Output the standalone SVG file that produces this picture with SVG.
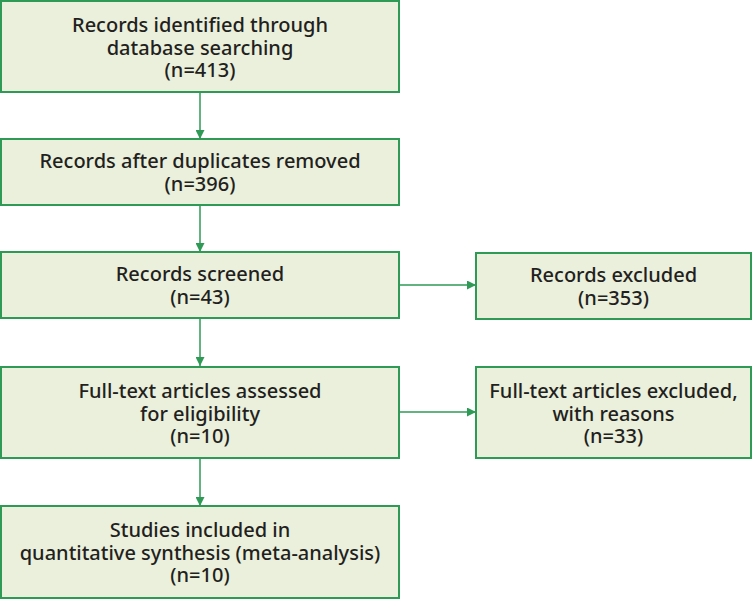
<svg xmlns="http://www.w3.org/2000/svg" width="752" height="599" viewBox="0 0 752 599">
<defs>
<style>
.box{fill:#eaf0db;stroke:#2e9a55;stroke-width:2}
.t{font-family:"Noto Sans","Open Sans",sans-serif;font-size:20px;font-weight:500;fill:#231f20;text-anchor:middle}
.c{stroke:#2e9a55;stroke-width:1.5;fill:none}
</style>
<marker id="ah" viewBox="0 0 10 10" refX="10" refY="5" markerWidth="9" markerHeight="9" markerUnits="userSpaceOnUse" orient="auto">
<path d="M0,0 L10,5 L0,10 z" fill="#2e9a55"/>
</marker>
</defs>
<rect width="752" height="599" fill="#ffffff"/>
<g id="connectors">
<line class="c" x1="200" y1="92" x2="200" y2="139" marker-end="url(#ah)"/>
<line class="c" x1="200" y1="205" x2="200" y2="252" marker-end="url(#ah)"/>
<line class="c" x1="200" y1="318" x2="200" y2="366" marker-end="url(#ah)"/>
<line class="c" x1="200" y1="458" x2="200" y2="506" marker-end="url(#ah)"/>
<line class="c" x1="399" y1="285" x2="476" y2="285" marker-end="url(#ah)"/>
<line class="c" x1="399" y1="412" x2="476" y2="412" marker-end="url(#ah)"/>
</g>
<g id="n1"><rect class="box" x="1" y="1" width="398" height="91"/>
<text class="t" x="200" y="32">Records identified through</text>
<text class="t" x="200" y="54.5">database searching</text>
<text class="t" x="200" y="77">(n=413)</text></g>
<g id="n2"><rect class="box" x="1" y="139" width="398" height="66"/>
<text class="t" x="200" y="168">Records after duplicates removed</text>
<text class="t" x="200" y="190.5">(n=396)</text></g>
<g id="n3"><rect class="box" x="1" y="252" width="398" height="66"/>
<text class="t" x="200" y="281">Records screened</text>
<text class="t" x="200" y="303.5">(n=43)</text></g>
<g id="n4"><rect class="box" x="476" y="253" width="275" height="66"/>
<text class="t" x="613.5" y="282">Records excluded</text>
<text class="t" x="613.5" y="304.5">(n=353)</text></g>
<g id="n5"><rect class="box" x="1" y="367" width="398" height="91"/>
<text class="t" x="200" y="398">Full-text articles assessed</text>
<text class="t" x="200" y="420.5">for eligibility</text>
<text class="t" x="200" y="443">(n=10)</text></g>
<g id="n6"><rect class="box" x="476" y="367" width="275" height="91"/>
<text class="t" x="613.5" y="398">Full-text articles excluded,</text>
<text class="t" x="613.5" y="420.5">with reasons</text>
<text class="t" x="613.5" y="443">(n=33)</text></g>
<g id="n7"><rect class="box" x="1" y="506" width="398" height="92"/>
<text class="t" x="200" y="537">Studies included in</text>
<text class="t" x="200" y="559.5">quantitative synthesis (meta-analysis)</text>
<text class="t" x="200" y="582">(n=10)</text></g>
</svg>
